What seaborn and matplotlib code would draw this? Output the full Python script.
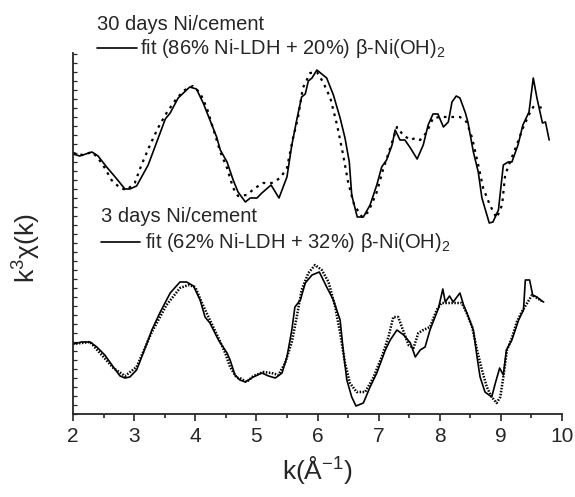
import numpy as np
import pandas as pd
import matplotlib
matplotlib.use("Agg")
import matplotlib.pyplot as plt
from matplotlib.lines import Line2D
import seaborn as sns

# k values (Å^-1) and k^3 chi(k) in arbitrary (offset) units
k_30_data = [2.00, 2.11, 2.31, 2.41, 2.55, 2.69, 2.85, 2.93, 3.04, 3.23, 3.37, 3.51, 3.59, 3.72,
             3.91, 4.02, 4.13, 4.35, 4.41, 4.52, 4.62, 4.70, 4.82, 4.90, 5.01, 5.09, 5.24, 5.37,
             5.50, 5.58, 5.66, 5.74, 5.80, 5.85, 5.91, 5.99, 6.15, 6.26, 6.37, 6.45, 6.52, 6.56,
             6.65, 6.75, 6.86, 6.97, 7.05, 7.13, 7.22, 7.27, 7.35, 7.43, 7.52, 7.63, 7.73, 7.81,
             7.89, 7.97, 8.06, 8.14, 8.20, 8.27, 8.33, 8.42, 8.46, 8.55, 8.63, 8.69, 8.81, 8.87,
             8.96, 9.04, 9.12, 9.18, 9.28, 9.36, 9.46, 9.53, 9.59, 9.68, 9.73, 9.79]
y_30_data = [26.0, 25.8, 26.2, 25.8, 24.7, 23.7, 22.5, 22.5, 22.8, 24.9, 27.2, 29.5, 30.1, 31.6,
             32.7, 32.5, 31.1, 27.7, 26.4, 25.2, 23.4, 22.2, 21.2, 21.6, 21.6, 22.1, 22.9, 21.6,
             23.7, 26.9, 29.4, 31.7, 32.0, 33.3, 33.6, 34.4, 33.6, 31.9, 29.6, 27.6, 25.2, 21.9,
             19.7, 19.7, 20.9, 22.9, 24.7, 25.4, 26.9, 28.4, 27.4, 27.4, 26.6, 25.5, 26.9, 28.9,
             30.0, 30.0, 28.7, 29.2, 31.2, 31.8, 31.6, 30.1, 29.2, 26.2, 24.2, 21.6, 19.1, 19.2,
             20.4, 24.9, 25.2, 25.2, 26.9, 28.9, 30.2, 33.6, 31.6, 29.1, 29.2, 27.4]

k_30_fit = [2.00, 2.16, 2.31, 2.41, 2.52, 2.63, 2.77, 2.88, 3.01, 3.12, 3.26, 3.39, 3.53, 3.70,
            3.83, 3.96, 4.08, 4.19, 4.29, 4.41, 4.52, 4.62, 4.70, 4.84, 4.98, 5.11, 5.25, 5.39,
            5.50, 5.60, 5.68, 5.76, 5.88, 5.99, 6.09, 6.21, 6.32, 6.42, 6.50, 6.60, 6.73, 6.83,
            6.97, 7.07, 7.19, 7.30, 7.40, 7.52, 7.60, 7.68, 7.79, 7.89, 8.01, 8.14, 8.33, 8.44,
            8.53, 8.63, 8.71, 8.82, 8.93, 9.02, 9.07, 9.15, 9.26, 9.36, 9.48, 9.53, 9.61, 9.69]
y_30_fit = [26.1, 25.9, 26.2, 25.6, 24.6, 23.4, 22.6, 22.4, 23.1, 24.9, 26.9, 28.6, 30.1, 31.6,
            32.4, 32.8, 32.1, 30.6, 28.6, 26.2, 24.6, 22.6, 21.8, 21.9, 22.6, 23.1, 23.1, 23.6,
            24.6, 27.6, 29.6, 32.6, 34.1, 34.2, 33.2, 31.6, 28.9, 25.9, 23.2, 20.9, 19.7, 20.2,
            22.2, 24.4, 26.6, 28.7, 27.9, 27.4, 27.6, 27.4, 28.2, 29.6, 29.7, 29.7, 29.7, 29.2,
            27.6, 24.9, 22.6, 20.9, 19.6, 20.9, 23.9, 25.2, 26.9, 28.6, 30.2, 30.7, 30.7, 30.6]

k_3_data = [2.00, 2.14, 2.28, 2.39, 2.52, 2.66, 2.77, 2.85, 2.93, 3.04, 3.15, 3.29, 3.42, 3.59,
            3.75, 3.86, 3.97, 4.08, 4.16, 4.24, 4.38, 4.52, 4.57, 4.65, 4.73, 4.82, 4.95, 5.09,
            5.20, 5.31, 5.42, 5.50, 5.58, 5.63, 5.72, 5.80, 5.91, 6.03, 6.15, 6.26, 6.37, 6.42,
            6.48, 6.56, 6.63, 6.75, 6.86, 6.97, 7.11, 7.19, 7.30, 7.41, 7.52, 7.60, 7.68, 7.76,
            7.84, 7.98, 8.05, 8.09, 8.16, 8.22, 8.33, 8.39, 8.47, 8.55, 8.61, 8.66, 8.74, 8.85,
            8.91, 8.98, 9.04, 9.09, 9.18, 9.29, 9.37, 9.40, 9.47, 9.52, 9.59, 9.67, 9.70]
y_3_data = [7.0, 7.2, 7.2, 6.7, 5.9, 4.7, 3.8, 3.6, 3.7, 4.4, 6.1, 8.4, 10.1, 12.1,
            13.2, 13.2, 12.8, 11.4, 9.7, 9.1, 7.4, 6.1, 5.4, 3.9, 3.4, 3.2, 3.7, 4.1,
            3.8, 3.6, 4.1, 5.7, 8.4, 10.7, 11.4, 13.1, 13.9, 14.2, 12.7, 11.4, 9.4, 6.4,
            3.4, 1.7, 0.8, 1.1, 2.7, 4.1, 6.4, 7.4, 8.4, 7.9, 7.1, 5.7, 6.4, 6.7,
            8.4, 10.6, 12.5, 11.2, 11.8, 11.2, 12.1, 10.9, 9.7, 8.4, 5.7, 3.7, 2.2, 1.7,
            3.1, 4.6, 3.9, 6.4, 7.4, 9.4, 10.4, 13.4, 13.4, 11.9, 11.7, 11.3, 11.2]

k_3_fit = [2.00, 2.28, 2.66, 2.85, 3.04, 3.29, 3.53, 3.75, 3.89, 4.00, 4.11, 4.24, 4.38, 4.49,
           4.57, 4.68, 4.73, 4.84, 4.95, 5.11, 5.25, 5.36, 5.47, 5.58, 5.66, 5.74, 5.85, 5.96,
           6.07, 6.18, 6.29, 6.37, 6.45, 6.53, 6.64, 6.78, 6.91, 7.05, 7.16, 7.24, 7.32, 7.41,
           7.49, 7.57, 7.65, 7.73, 7.84, 7.95, 8.03, 8.17, 8.36, 8.44, 8.53, 8.61, 8.69, 8.77,
           8.85, 8.93, 8.99, 9.04, 9.10, 9.18, 9.26, 9.34, 9.43, 9.51, 9.59, 9.67]
y_3_fit = [7.0, 7.2, 4.6, 3.8, 4.7, 8.2, 10.9, 12.6, 12.9, 12.7, 11.1, 9.4, 7.6, 6.1,
           4.7, 3.6, 3.6, 3.2, 3.8, 4.2, 4.1, 3.9, 5.1, 7.2, 9.7, 12.4, 14.1, 14.9,
           14.4, 13.2, 10.7, 8.1, 5.1, 3.1, 2.2, 2.2, 3.6, 5.7, 7.7, 9.7, 9.7, 8.2,
           6.9, 6.6, 8.1, 8.4, 8.7, 10.4, 11.1, 11.1, 11.1, 10.1, 8.7, 6.4, 4.4, 2.7,
           1.7, 1.1, 1.7, 3.7, 6.4, 7.6, 9.2, 10.2, 11.1, 11.9, 11.6, 11.3]

x_ticks = [2, 3, 4, 5, 6, 7, 8, 9, 10]

sns.set_style("ticks")
plt.rcParams['font.family'] = ['Liberation Sans', 'DejaVu Sans']
plt.rcParams['mathtext.fontset'] = 'custom'
plt.rcParams['mathtext.rm'] = 'Liberation Sans'
plt.rcParams['mathtext.it'] = 'Liberation Sans'

fig = plt.figure(figsize=(5.75, 4.97), dpi=100)
ax = fig.add_axes([73 / 575, 83 / 497, 489 / 575, 361 / 497])

series = [
    (k_30_data, y_30_data, '-', 1.2),
    (k_30_fit, y_30_fit, (0, (1.2, 2.2)), 1.6),
    (k_3_data, y_3_data, '-', 1.2),
    (k_3_fit, y_3_fit, (0, (0.6, 0.6)), 1.8),
]
for kk, yy, ls, lw in series:
    df = pd.DataFrame({'k': kk, 'y': yy})
    sns.lineplot(data=df, x='k', y='y', ax=ax, color='black', linestyle=ls,
                 linewidth=lw, estimator=None, sort=False)

ax.set_xlim(2, 10)
ax.set_ylim(0, 36.1)
ax.set_xticks(x_ticks)
ax.set_xticks(np.arange(2.5, 10, 1.0), minor=True)
ax.set_yticks(np.arange(0, 36.2, 0.9))
ax.set_yticklabels([])
ax.tick_params(axis='x', which='major', direction='out', length=5, width=1.2, labelsize=15, pad=4)
ax.tick_params(axis='x', which='minor', direction='out', length=3, width=1.2)
ax.tick_params(axis='y', which='major', direction='in', length=3, width=0.9)
for s in ['left', 'bottom']:
    ax.spines[s].set_linewidth(1.3)
sns.despine(ax=ax)

ax.set_xlabel(r'k($\mathregular{\AA^{-1}}$)', fontsize=19, labelpad=6)
ax.set_ylabel(r'k$\mathregular{^3}\chi$(k)', fontsize=19)
ax.yaxis.set_label_coords(-0.062, 0.46)

# annotations
fs = 14.5
fig.text(97 / 575, 1 - 25 / 497, '30 days Ni/cement', fontsize=fs, va='center', ha='left')
fig.add_artist(Line2D([97 / 575, 137 / 575], [1 - 47.5 / 497] * 2, color='black', lw=1.2))
fig.text(140 / 575, 1 - 48 / 497, r'fit (86% Ni-LDH + 20%) $\beta$-Ni(OH)$_2$', fontsize=fs,
         va='center', ha='left')
fig.text(101 / 575, 1 - 216 / 497, '3 days Ni/cement', fontsize=fs, va='center', ha='left')
fig.add_artist(Line2D([101 / 575, 140 / 575], [1 - 242 / 497] * 2, color='black', lw=1.2))
fig.text(145 / 575, 1 - 243 / 497, r'fit (62% Ni-LDH + 32%) $\beta$-Ni(OH)$_2$', fontsize=fs,
         va='center', ha='left')

fig.savefig('out.png', dpi=100)
